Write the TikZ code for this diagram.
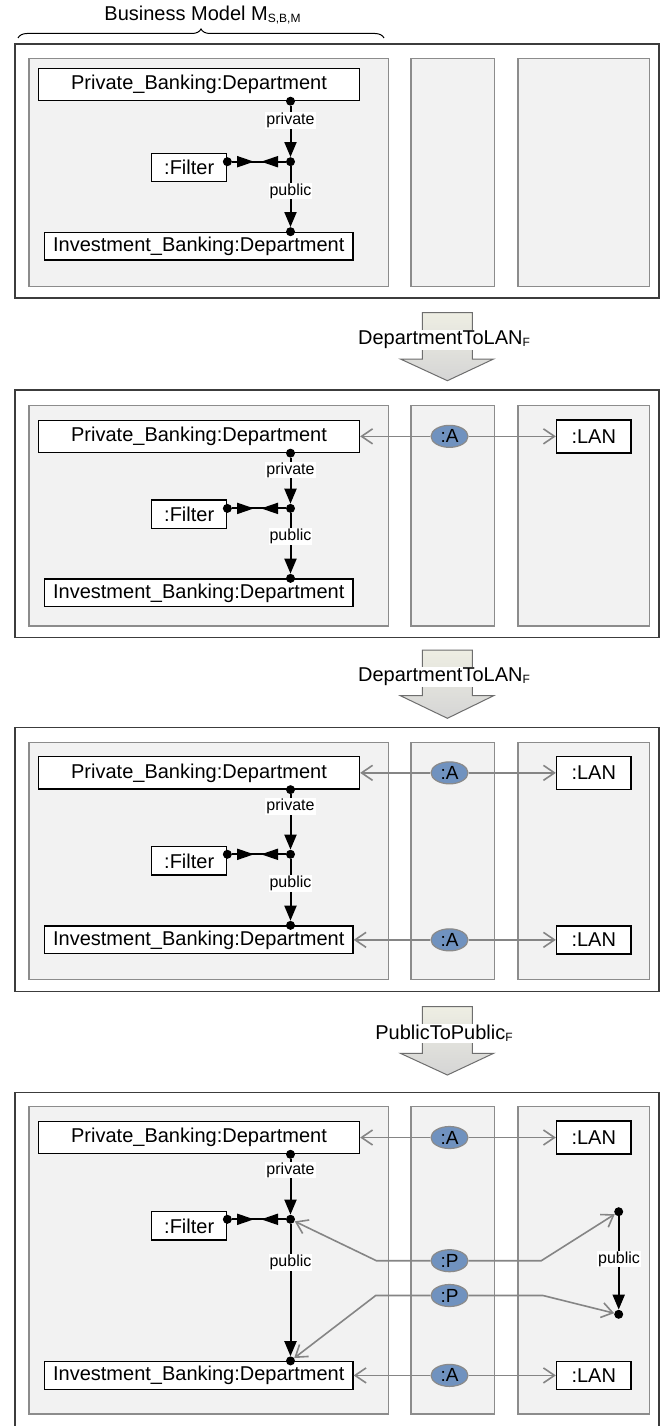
\documentclass[tikz,border=0pt]{standalone}
\usepackage{fontspec}
\setmainfont{Liberation Sans}
\usetikzlibrary{arrows.meta,shapes.geometric,decorations.pathreplacing,decorations.markings}

\definecolor{colfill}{HTML}{F2F2F2}
\definecolor{coldraw}{HTML}{8C8C8C}
\definecolor{outerdraw}{HTML}{3C3C3C}
\definecolor{ellfill}{HTML}{7092BF}
\definecolor{ellline}{HTML}{8A8A8A}
\definecolor{garrowc}{HTML}{858585}
\definecolor{arrtop}{HTML}{EEEEE3}
\definecolor{arrbot}{HTML}{D5D5D5}
\definecolor{arrline}{HTML}{6E6E6E}

\tikzset{
 outerbox/.style={draw=outerdraw, line width=1.5pt},
 colbox/.style={draw=coldraw, fill=colfill, line width=1.5pt},
 objbox/.style={draw=black, fill=white, line width=1.3pt, inner sep=0pt, font=\fontsize{20}{24}\selectfont},
 ell/.style={ellipse, draw=ellline, fill=ellfill, line width=1.2pt, minimum width=37pt, minimum height=22pt, inner sep=0pt, font=\fontsize{19}{22}\selectfont},
 dotnode/.style={circle, fill=black, inner sep=0pt, minimum size=9pt},
 blk/.style={draw=black, line width=2pt},
 blkarr/.style={blk, -{Triangle[length=15pt,width=12pt]}},
 garrow/.style={draw=garrowc, line width=1.6pt, -{Straight Barb[length=11pt,width=15pt]}},
 lbl/.style={fill=white, inner sep=1pt, font=\fontsize{16}{18}\selectfont},
 flowlbl/.style={fill=white, inner sep=1pt, font=\fontsize{20}{24}\selectfont},
 bigtext/.style={font=\fontsize{20}{24}\selectfont},
 filterlink/.style={blk, postaction={decorate}, decoration={markings,
   mark=at position 22pt with {\arrow{Triangle[length=17pt,width=11pt]}},
   mark=at position 29pt with {\arrowreversed{Triangle[length=17pt,width=11pt]}}}},
}

\newcommand{\subtx}[1]{\raisebox{-2pt}{\fontsize{12}{12}\selectfont #1}}

% outer top, outer bottom, column top, column bottom
\newcommand{\panelframe}[4]{%
 \draw[outerbox] (15,#1) rectangle (659,#2);
 \draw[colbox] (29,#3) rectangle (388.5,#4);
 \draw[colbox] (411,#3) rectangle (494.5,#4);
 \draw[colbox] (518,#3) rectangle (649.5,#4);
}

% suffix, private box y, junction y, filter y, investment y, private label y, public label y
\newcommand{\deptpanel}[7]{%
 \node[objbox, minimum width=321pt, minimum height=32.3pt] (pb#1) at (199,#2) {Private\_Banking:Department};
 \node[objbox, minimum width=75pt, minimum height=28.3pt] (fi#1) at (189.2,#4) {:Filter};
 \node[objbox, minimum width=308.5pt, minimum height=27.7pt] (ib#1) at (198.75,#5) {Investment\_Banking:Department};
 \node[dotnode] (jd#1) at (290.5,#3) {};
 \node[dotnode] (pd#1) at (pb#1.south -| jd#1) {};
 \node[dotnode] (fd#1) at (fi#1.east |- jd#1) {};
 \node[dotnode] (id#1) at (ib#1.north -| jd#1) {};
 \draw[blkarr] (pd#1) -- (jd#1);
 \draw[blkarr] (jd#1) -- (id#1);
 \draw[filterlink] (fd#1) -- (jd#1);
 \node[lbl] (prl#1) at (290.5,#6) {private};
 \node[lbl] (pul#1) at (290.5,#7) {public};
}

% suffix, y, target box, LAN height
\newcommand{\arow}[4]{%
 \node[ell] (a#1) at (449.5,#2) {:A};
 \node[objbox, minimum width=74.5pt, minimum height=#4pt] (lan#1) at (593.75,#2) {:LAN};
 \draw[garrow] (a#1) -- (#3.east |- a#1);
 \draw[garrow] (a#1) -- (lan#1);
}

% name, top, text y, head base, tip, label
\newcommand{\flowarrow}[6]{%
 \shade[top color=arrtop, bottom color=arrbot, draw=arrline, line width=1pt]
   (422.4,#2) -- (472.4,#2) -- (472.4,#4) -- (493.6,#4) -- (447.4,#5) -- (400.4,#4) -- (422.4,#4) -- cycle;
 \node[flowlbl] (#1) at (444,#3) {#6};
}

\begin{document}
\begin{tikzpicture}[x=1pt, y=-1pt]
\fill[white] (0,0) rectangle (661,1426);
\useasboundingbox (0,0) rectangle (661,1426);

% title and brace
\node[bigtext] (title) at (202.5,15) {Business Model M\subtx{S,B,M}};
\coordinate (brl) at (18,38);
\coordinate (brr) at (384,38);
\draw[decorate, decoration={brace, amplitude=9pt}, line width=1pt] (brl) -- (brr);

% panel 1
\panelframe{44}{298}{58.3}{286.7}
\deptpanel{1}{84.4}{161.7}{167.5}{246.2}{120.5}{191}

\flowarrow{f1}{312.7}{340}{359}{380.7}{DepartmentToLAN\subtx{F}}

% panel 2
\panelframe{390}{637.7}{405.7}{626}
\deptpanel{2}{436.35}{508.4}{514.15}{592.85}{470}{536.7}
\arow{2a}{436.35}{pb2}{33}

\flowarrow{f2}{650}{676.7}{695.7}{718.3}{DepartmentToLAN\subtx{F}}

% panel 3
\panelframe{727.7}{991.7}{742.3}{979.3}
\deptpanel{3}{772.85}{854.3}{860.85}{939.85}{806.7}{883.3}
\arow{3a}{772.85}{pb3}{33}
\arow{3b}{939.85}{ib3}{28}

\flowarrow{f3}{1006.7}{1033.3}{1053.3}{1075}{PublicToPublic\subtx{F}}

% panel 4
\panelframe{1092.3}{1432}{1106.7}{1414}
\deptpanel{4}{1137.5}{1219.3}{1225.85}{1375.4}{1170}{1262.3}
\arow{4a}{1137.5}{pb4}{33}
\arow{4b}{1375.4}{ib4}{28}

\node[ell] (pone) at (449.5,1260.7) {:P};
\node[ell] (ptwo) at (449.5,1295.5) {:P};
\node[dotnode] (rt4) at (618.7,1211.7) {};
\node[dotnode] (rb4) at (618.7,1314.3) {};
\draw[blkarr] (rt4) -- (rb4);
\node[lbl] (rl4) at (619,1259) {public};
\draw[garrow] (pone.west) -- (376.4,1260.7) -- (jd4);
\draw[garrow] (pone.east) -- (541.3,1260.7) -- (rt4);
\draw[garrow] (ptwo.west) -- (375.7,1295.5) -- (id4);
\draw[garrow] (ptwo.east) -- (543,1295.5) -- (rb4);
\end{tikzpicture}
\end{document}
